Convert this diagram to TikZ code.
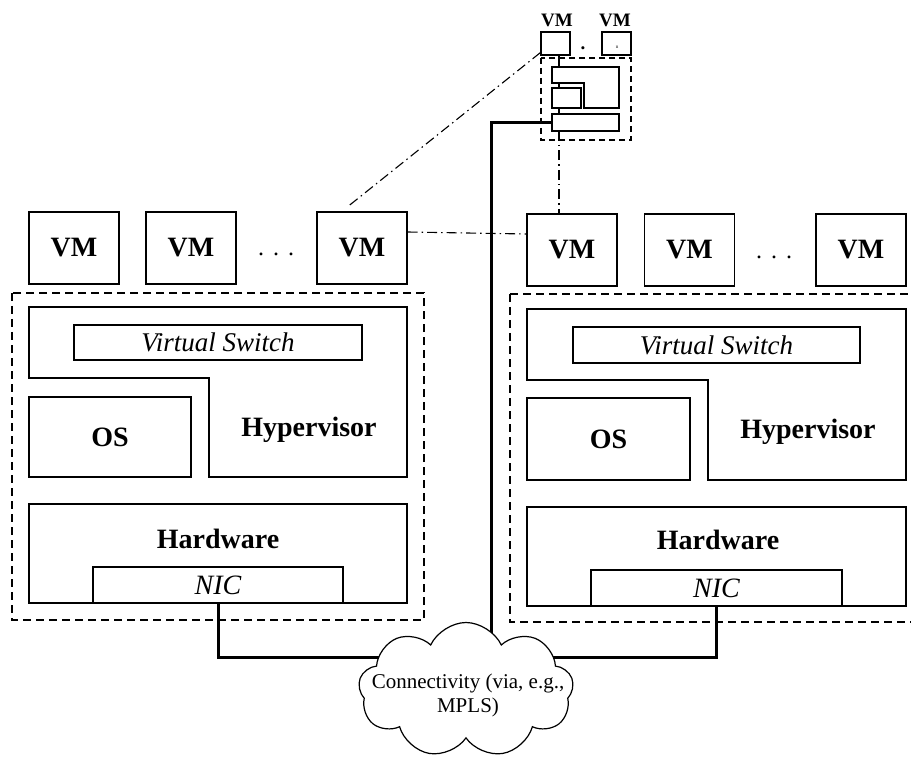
\documentclass[tikz,border=0pt]{standalone}
\usepackage{fontspec}
\setmainfont{Liberation Serif}
\usetikzlibrary{shapes.symbols,calc}
\pgfdeclarelayer{background}
\pgfsetlayers{background,main}
\tikzset{
  box/.style={draw, line width=1.2pt, fill=white, inner sep=0pt},
  vmbox/.style={box, minimum width=90pt, minimum height=72pt, font=\fontsize{28}{30}\selectfont\bfseries},
  smallvm/.style={box, minimum width=29pt, minimum height=23pt},
  boldlbl/.style={font=\fontsize{28}{30}\selectfont\bfseries, inner sep=0pt},
  itlbl/.style={font=\fontsize{27}{29}\selectfont\itshape, inner sep=0pt},
  hostframe/.style={draw, line width=1.2pt, dash pattern=on 8pt off 5pt},
  dashdot/.style={line width=1.1pt, dash pattern=on 10pt off 4pt on 1.5pt off 4pt},
  link/.style={line width=3pt},
  poly/.style={draw, line width=1.2pt, fill=white},
  dotsl/.style={font=\fontsize{24}{26}\selectfont, inner sep=0pt}
}
\begin{document}
\begin{tikzpicture}[x=1pt, y=-1pt]
\useasboundingbox (0,0) rectangle (911,762);

% ---------- left host ----------
\draw[hostframe] (12,293) rectangle (424,620);
\node[vmbox] (vmL1) at (74,248) {VM};
\node[vmbox] (vmL2) at (191,248) {VM};
\node[vmbox] (vmL3) at (362,248) {VM};
\node[dotsl] (dotsL) at (276,254) {.\hspace{9pt}.\hspace{9pt}.};
\draw[poly] (29,307) -- (407,307) -- (407,477) -- (209,477) -- (209,378) -- (29,378) -- cycle;
\node[box, minimum width=288pt, minimum height=35pt, itlbl] (vsL) at (218,342.5) {Virtual Switch};
\node[box, minimum width=162pt, minimum height=80pt, boldlbl] (osL) at (110,437) {OS};
\node[boldlbl] (hypL) at (309,430) {Hypervisor};
\draw[box] (29,504) rectangle (407,603);
\node[boldlbl] (hwL) at (218,539) {Hardware};
\node[box, minimum width=250pt, minimum height=36pt, font=\fontsize{28}{30}\selectfont\itshape] (nicL) at (218,585) {NIC};

% ---------- right host ----------
\draw[hostframe] (510,294) -- (915,294);
\draw[hostframe] (510,294) -- (510,622) -- (915,622);
\node[vmbox] (vmR1) at (572,250) {VM};
\node[vmbox] (vmR2) at (689.5,250) {VM};
\node[vmbox] (vmR3) at (861,250) {VM};
\node[dotsl] (dotsR) at (774,257) {.\hspace{9pt}.\hspace{9pt}.};
\draw[poly] (527,309) -- (906,309) -- (906,480) -- (708,480) -- (708,380) -- (527,380) -- cycle;
\node[box, minimum width=287pt, minimum height=36pt, itlbl] (vsR) at (716.5,345) {Virtual Switch};
\node[box, minimum width=163pt, minimum height=82pt, boldlbl] (osR) at (608.5,439) {OS};
\node[boldlbl] (hypR) at (808,432) {Hypervisor};
\draw[box] (527,507) rectangle (906,606);
\node[boldlbl] (hwR) at (718,540) {Hardware};
\node[box, minimum width=251pt, minimum height=36pt, font=\fontsize{28}{30}\selectfont\itshape] (nicR) at (716.5,588) {NIC};

% ---------- small zoomed host ----------
\node[font=\fontsize{19}{20}\selectfont\bfseries, inner sep=0pt] (tvm1) at (557,20) {VM};
\node[font=\fontsize{19}{20}\selectfont\bfseries, inner sep=0pt] (tvm2) at (615,20) {VM};
\coordinate (tap) at (559,55);
\coordinate (tapb) at (559,131);
\begin{pgfonlayer}{background}
  \draw[line width=1.2pt] (tap) -- (559,114);
\end{pgfonlayer}
\node[smallvm] (sv1) at (555.5,43.5) {};
\node[smallvm] (sv2) at (616.5,43.5) {};
\node[font=\fontsize{5}{5}\selectfont, inner sep=0pt] at (617,47) {n};
\node[font=\fontsize{19}{20}\selectfont\bfseries, inner sep=0pt] (sdot) at (583,48) {.};
\draw[hostframe, dash pattern=on 6pt off 4pt] (541,58) rectangle (631,140);
\draw[poly] (552,67) -- (619,67) -- (619,108) -- (584,108) -- (584,83) -- (552,83) -- cycle;
\node[box, minimum width=29pt, minimum height=20pt] (sos) at (566.5,98) {};
\node[box, minimum width=67pt, minimum height=17pt] (sbar) at (585.5,122.5) {};

% ---------- cloud ----------
\node[cloud, draw, line width=1.2pt, fill=white, cloud puffs=9, cloud puff arc=130,
      aspect=1.6, minimum width=215pt, minimum height=135pt, inner sep=0pt] (cloud) at (466,690) {};
\node[font=\fontsize{21}{24}\selectfont, align=center, inner sep=0pt] (ctext) at (468,695)
  {Connectivity (via, e.g.,\\MPLS)};

% ---------- connectors ----------
\begin{pgfonlayer}{background}
  \draw[link] (nicL.south) |- ($(cloud.center)+(0,-33)$);
  \draw[link] (nicR.south) |- ($(cloud.center)+(0,-33)$);
  \draw[link] (sbar.west) -| ($(cloud.center)+(25,0)$);
\end{pgfonlayer}
\draw[dashdot] (tapb) -- (tapb |- vmR1.north);
\draw[dashdot] (sv1.south west) ++(0,-3) -- ($(vmL3.north)+(-14,-5)$);
\draw[dashdot] ($(vmL3.east)+(0,-16)$) -- ($(vmR1.west)+(0,-16)$);
\end{tikzpicture}
\end{document}
